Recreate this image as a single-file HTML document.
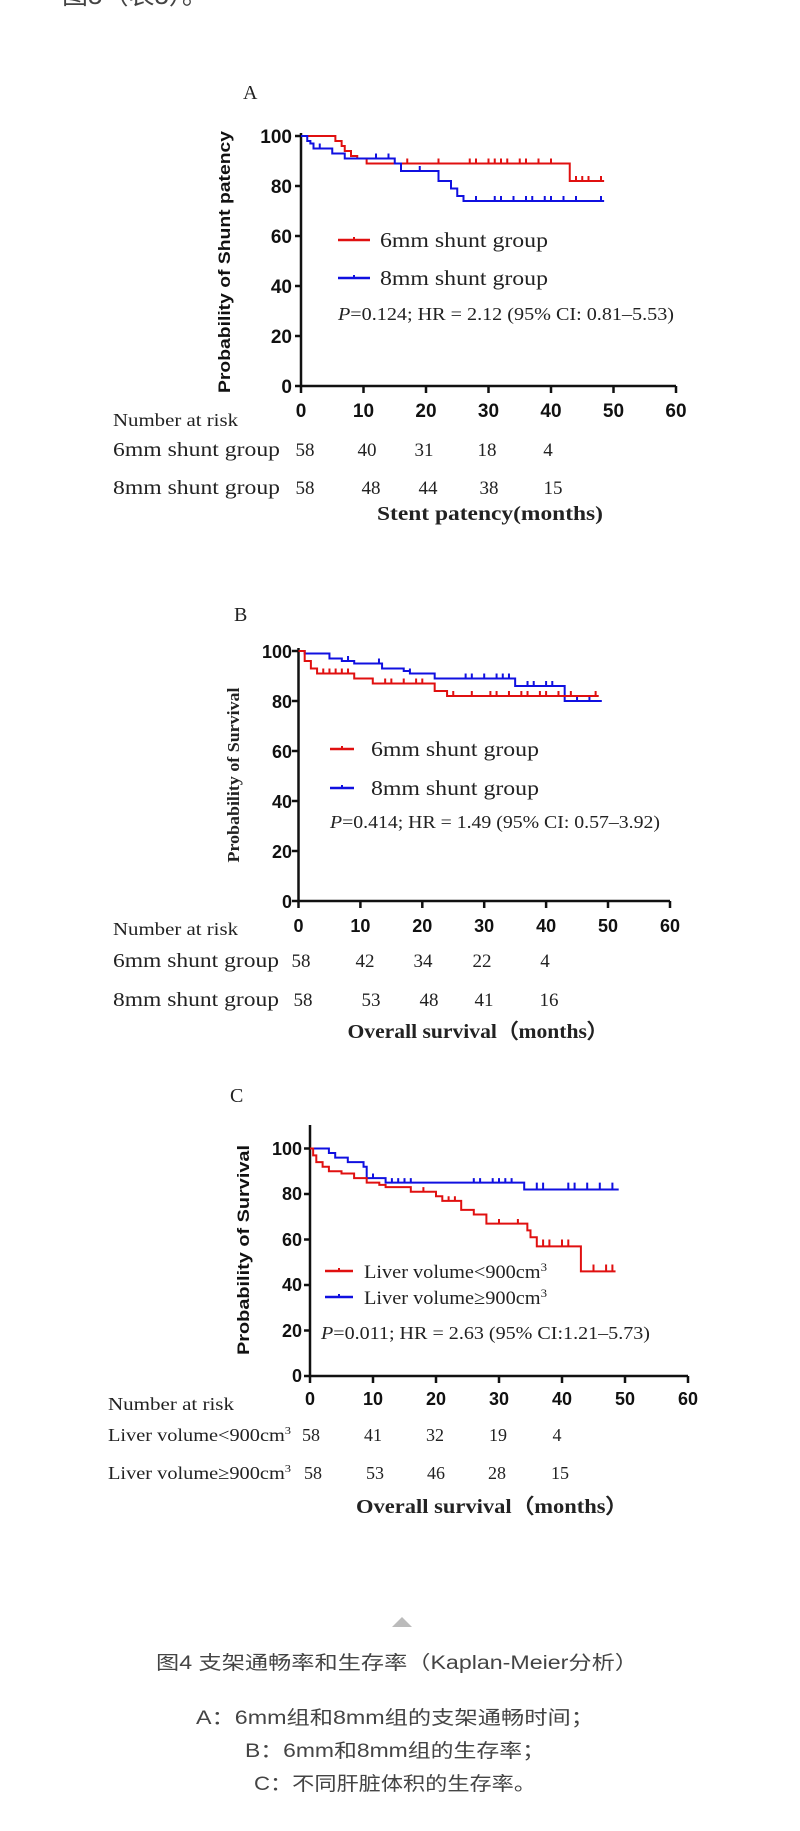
<!DOCTYPE html>
<html><head><meta charset="utf-8"><style>
html,body{margin:0;padding:0;background:#fff}
svg{display:block}
.s{font-family:"Liberation Serif",serif;fill:#222}
.b{font-family:"Liberation Sans",sans-serif;font-weight:bold;fill:#111}
.cap{font-family:"Liberation Sans","Noto Sans CJK SC",sans-serif;fill:#444}
</style></head><body>
<svg width="800" height="1831" viewBox="0 0 800 1831" xmlns="http://www.w3.org/2000/svg">
<text x="62" y="4" class="cap" font-size="26" fill="#333">图5（表5）。</text>

<!-- Panel A -->
<text x="243" y="99" class="s" font-size="20">A</text>
<g stroke="#111" stroke-width="2.5" fill="none">
<path d="M301 133 V386 H676"/>
<path d="M295 136H301M295 186H301M295 236H301M295 286H301M295 336H301M295 386H301"/>
<path d="M301 386v7M363.5 386v7M426 386v7M488.5 386v7M551 386v7M613.5 386v7M676 386v7"/>
</g>
<g class="b" font-size="19" text-anchor="end">
<text x="292" y="143">100</text><text x="292" y="193">80</text><text x="292" y="243">60</text><text x="292" y="293">40</text><text x="292" y="343">20</text><text x="292" y="393">0</text></g>
<g class="b" font-size="19" text-anchor="middle">
<text x="301" y="417">0</text><text x="363.5" y="417">10</text><text x="426" y="417">20</text><text x="488.5" y="417">30</text><text x="551" y="417">40</text><text x="613.5" y="417">50</text><text x="676" y="417">60</text></g>
<text transform="translate(230,262) rotate(-90)" class="b" font-size="17" text-anchor="middle" textLength="262" lengthAdjust="spacingAndGlyphs">Probability of Shunt patency</text>
<g transform="translate(301,386) scale(6.25,-2.5)" fill="none" stroke-width="2">
<path vector-effect="non-scaling-stroke" stroke="#e01010" d="M0 100 H5.5 V98 H6.5 V96 H7 V94 H8 V92 H9 V91 H10.5 V89 H43 V82 H48.5 M17 89v2M22 89v2M27 89v2M28 89v2M30 89v2M31 89v2M32 89v2M33 89v2M35 89v2M36 89v2M38 89v2M40 89v2M44 82v2M45 82v2M46 82v2M48 82v2"/>
<path vector-effect="non-scaling-stroke" stroke="#1010e0" d="M0 100 H1 V98 H1.5 V97 H2 V95 H5 V93 H7 V91 H15 V89 H16 V86 H22 V82 H24 V79 H25 V76 H26 V74 H48.5 M3 95v2M12 91v2M14 91v2M19 86v2M28 74v2M31 74v2M32 74v2M34 74v2M36 74v2M37 74v2M39 74v2M40 74v2M42 74v2M44 74v2M48 74v2"/>
</g>
<path d="M338 240H370" stroke="#e01010" stroke-width="2.5"/><path d="M354 237v3" stroke="#e01010" stroke-width="2"/>
<path d="M338 278H370" stroke="#1010e0" stroke-width="2.5"/><path d="M354 275v3" stroke="#1010e0" stroke-width="2"/>
<text x="380" y="247" class="s" font-size="21" textLength="168" lengthAdjust="spacingAndGlyphs">6mm shunt group</text>
<text x="380" y="285" class="s" font-size="21" textLength="168" lengthAdjust="spacingAndGlyphs">8mm shunt group</text>
<text x="338" y="320" class="s" font-size="18" textLength="336" lengthAdjust="spacingAndGlyphs"><tspan font-style="italic">P</tspan>=0.124; HR = 2.12 (95% CI: 0.81–5.53)</text>
<text x="113" y="426" class="s" font-size="18" textLength="125" lengthAdjust="spacingAndGlyphs">Number  at risk</text>
<g class="s" font-size="20">
<text x="113" y="456" textLength="167" lengthAdjust="spacingAndGlyphs">6mm shunt group</text>
<text x="113" y="494" textLength="167" lengthAdjust="spacingAndGlyphs">8mm shunt group</text>
</g>
<g class="s" font-size="19" text-anchor="middle">
<text x="305" y="456">58</text><text x="367" y="456">40</text><text x="424" y="456">31</text><text x="487" y="456">18</text><text x="548" y="456">4</text>
<text x="305" y="494">58</text><text x="371" y="494">48</text><text x="428" y="494">44</text><text x="489" y="494">38</text><text x="553" y="494">15</text>
</g>
<text x="490" y="520" class="s" font-size="20" font-weight="bold" text-anchor="middle" textLength="226" lengthAdjust="spacingAndGlyphs">Stent patency(months)</text>

<!-- Panel B -->
<text x="234" y="621" class="s" font-size="20">B</text>
<g stroke="#111" stroke-width="2.5" fill="none">
<path d="M298.5 648 V901 H670"/>
<path d="M292 651H298.5M292 701H298.5M292 751H298.5M292 801H298.5M292 851H298.5M292 901H298.5"/>
<path d="M298.5 901v7M360.4 901v7M422.3 901v7M484.2 901v7M546.1 901v7M608 901v7M670 901v7"/>
</g>
<g class="b" font-size="18" text-anchor="end">
<text x="292" y="658">100</text><text x="292" y="708">80</text><text x="292" y="758">60</text><text x="292" y="808">40</text><text x="292" y="858">20</text><text x="292" y="908">0</text></g>
<g class="b" font-size="18" text-anchor="middle">
<text x="298.5" y="932">0</text><text x="360.4" y="932">10</text><text x="422.3" y="932">20</text><text x="484.2" y="932">30</text><text x="546.1" y="932">40</text><text x="608" y="932">50</text><text x="670" y="932">60</text></g>
<text transform="translate(239,775) rotate(-90)" class="s" font-weight="bold" font-size="17" text-anchor="middle" textLength="175" lengthAdjust="spacingAndGlyphs">Probability of Survival</text>
<g transform="translate(298.5,901) scale(6.19,-2.5)" fill="none" stroke-width="2">
<path vector-effect="non-scaling-stroke" stroke="#1010e0" d="M0 100 H1 V99 H5 V97 H7 V96 H9 V95 H13.5 V93 H17 V92 H18 V91 H22 V89 H35 V86 H43 V80 H49 M8 96v2M13 95v2M18 91v2M27 89v2M28 89v2M30 89v2M32 89v2M33 89v2M34 89v2M37 86v2M38 86v2M40 86v2M41 86v2M45 80v2M47 80v2"/>
<path vector-effect="non-scaling-stroke" stroke="#e01010" d="M0 100 H1 V96 H2 V93 H3 V91 H9 V89 H12 V87 H22 V84 H24 V82 H48.5 M4 91v2M5 91v2M6 91v2M7 91v2M8 91v2M14 87v2M15 87v2M17 87v2M19 87v2M20 87v2M25 82v2M28 82v2M31 82v2M32 82v2M34 82v2M36 82v2M37 82v2M39 82v2M40 82v2M42 82v2M44 82v2M48 82v2"/>
</g>
<path d="M330 749H354" stroke="#e01010" stroke-width="2.5"/><path d="M342 746v3" stroke="#e01010" stroke-width="2"/>
<path d="M330 788H354" stroke="#1010e0" stroke-width="2.5"/><path d="M342 785v3" stroke="#1010e0" stroke-width="2"/>
<text x="371" y="756" class="s" font-size="21" textLength="168" lengthAdjust="spacingAndGlyphs">6mm shunt group</text>
<text x="371" y="795" class="s" font-size="21" textLength="168" lengthAdjust="spacingAndGlyphs">8mm shunt group</text>
<text x="330" y="828" class="s" font-size="18" textLength="330" lengthAdjust="spacingAndGlyphs"><tspan font-style="italic">P</tspan>=0.414; HR = 1.49 (95% CI: 0.57–3.92)</text>
<text x="113" y="935" class="s" font-size="18" textLength="125" lengthAdjust="spacingAndGlyphs">Number  at risk</text>
<g class="s" font-size="20">
<text x="113" y="967" textLength="166" lengthAdjust="spacingAndGlyphs">6mm shunt group</text>
<text x="113" y="1006" textLength="166" lengthAdjust="spacingAndGlyphs">8mm shunt group</text>
</g>
<g class="s" font-size="19" text-anchor="middle">
<text x="301" y="967">58</text><text x="365" y="967">42</text><text x="423" y="967">34</text><text x="482" y="967">22</text><text x="545" y="967">4</text>
<text x="303" y="1006">58</text><text x="371" y="1006">53</text><text x="429" y="1006">48</text><text x="484" y="1006">41</text><text x="549" y="1006">16</text>
</g>
<text x="478" y="1038" class="s" font-size="20" font-weight="bold" text-anchor="middle" textLength="261" lengthAdjust="spacingAndGlyphs">Overall survival（months）</text>

<!-- Panel C -->
<text x="230" y="1102" class="s" font-size="20">C</text>
<g stroke="#111" stroke-width="2.5" fill="none">
<path d="M310 1125 V1376 H688"/>
<path d="M304 1148.5H310M304 1194H310M304 1239.5H310M304 1285H310M304 1330.5H310M304 1376H310"/>
<path d="M310 1376v7M373 1376v7M436 1376v7M499 1376v7M562 1376v7M625 1376v7M688 1376v7"/>
</g>
<g class="b" font-size="18" text-anchor="end">
<text x="302" y="1155">100</text><text x="302" y="1200">80</text><text x="302" y="1246">60</text><text x="302" y="1291">40</text><text x="302" y="1337">20</text><text x="302" y="1382">0</text></g>
<g class="b" font-size="18" text-anchor="middle">
<text x="310" y="1405">0</text><text x="373" y="1405">10</text><text x="436" y="1405">20</text><text x="499" y="1405">30</text><text x="562" y="1405">40</text><text x="625" y="1405">50</text><text x="688" y="1405">60</text></g>
<text transform="translate(249,1250) rotate(-90)" class="b" font-size="17" text-anchor="middle" textLength="210" lengthAdjust="spacingAndGlyphs">Probability of Survival</text>
<g transform="translate(310,1376) scale(6.3,-2.275)" fill="none" stroke-width="2">
<path vector-effect="non-scaling-stroke" stroke="#1010e0" d="M0 100 H3 V98 H4 V96 H6 V94 H8.5 V92 H9 V87 H12 V85 H34 V82 H49 M10 87v2M13 85v2M14 85v2M15 85v2M16 85v2M26 85v2M27 85v2M29 85v2M30 85v2M31 85v2M32 85v2M36 82v3M37 82v3M41 82v3M42 82v3M44 82v3M46 82v3M48 82v3"/>
<path vector-effect="non-scaling-stroke" stroke="#e01010" d="M0 100 H0.5 V97 H1 V94 H2 V92 H3 V90 H5 V89 H7 V87 H9 V85 H11 V84 H12 V83 H16 V81 H20 V79 H21 V77 H24 V73 H26 V71 H28 V67 H34.5 V64 H35 V61 H36 V57 H43 V46 H48.5 M18 81v2M22 77v2M23 77v2M30 67v2M33 67v2M37 57v3M38 57v3M40 57v3M41 57v3M45 46v3M47 46v3M48 46v3"/>
</g>
<path d="M325 1271H353" stroke="#e01010" stroke-width="2.5"/><path d="M339 1268v3" stroke="#e01010" stroke-width="2"/>
<path d="M325 1297H353" stroke="#1010e0" stroke-width="2.5"/><path d="M339 1294v3" stroke="#1010e0" stroke-width="2"/>
<text x="364" y="1278" class="s" font-size="19" textLength="183" lengthAdjust="spacingAndGlyphs">Liver volume&lt;900cm<tspan font-size="12" dy="-7">3</tspan></text>
<text x="364" y="1304" class="s" font-size="19" textLength="183" lengthAdjust="spacingAndGlyphs">Liver volume≥900cm<tspan font-size="12" dy="-7">3</tspan></text>
<text x="321" y="1339" class="s" font-size="18" textLength="329" lengthAdjust="spacingAndGlyphs"><tspan font-style="italic">P</tspan>=0.011; HR = 2.63 (95% CI:1.21–5.73)</text>
<text x="108" y="1410" class="s" font-size="18" textLength="126" lengthAdjust="spacingAndGlyphs">Number  at risk</text>
<g class="s" font-size="18">
<text x="108" y="1441" textLength="183" lengthAdjust="spacingAndGlyphs">Liver volume&lt;900cm<tspan font-size="11" dy="-7">3</tspan></text>
<text x="108" y="1479" textLength="183" lengthAdjust="spacingAndGlyphs">Liver volume≥900cm<tspan font-size="11" dy="-7">3</tspan></text>
</g>
<g class="s" font-size="18" text-anchor="middle">
<text x="311" y="1441">58</text><text x="373" y="1441">41</text><text x="435" y="1441">32</text><text x="498" y="1441">19</text><text x="557" y="1441">4</text>
<text x="313" y="1479">58</text><text x="375" y="1479">53</text><text x="436" y="1479">46</text><text x="497" y="1479">28</text><text x="560" y="1479">15</text>
</g>
<text x="492" y="1513" class="s" font-size="20" font-weight="bold" text-anchor="middle" textLength="272" lengthAdjust="spacingAndGlyphs">Overall survival（months）</text>

<!-- Caption -->
<path d="M392 1627 L402 1617 L412 1627 Z" fill="#bbb"/>
<text x="397" y="1669" class="cap" font-size="19" text-anchor="middle" textLength="482" lengthAdjust="spacingAndGlyphs">图4 支架通畅率和生存率（Kaplan-Meier分析）</text>
<text x="395" y="1724" class="cap" font-size="19" text-anchor="middle" textLength="398" lengthAdjust="spacingAndGlyphs">A：6mm组和8mm组的支架通畅时间；</text>
<text x="395" y="1757" class="cap" font-size="19" text-anchor="middle" textLength="300" lengthAdjust="spacingAndGlyphs">B：6mm和8mm组的生存率；</text>
<text x="395" y="1790" class="cap" font-size="19" text-anchor="middle" textLength="282" lengthAdjust="spacingAndGlyphs">C：不同肝脏体积的生存率。</text>
</svg>
</body></html>
